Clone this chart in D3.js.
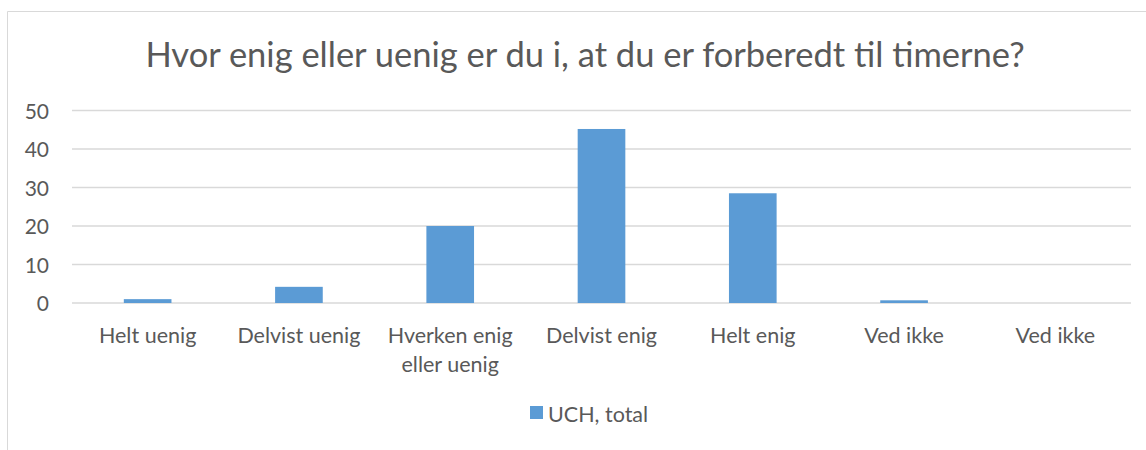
<!DOCTYPE html>
<html>
<head>
<meta charset="utf-8">
<script src="https://cdn.jsdelivr.net/npm/d3@7"></script>
<style>
  body { margin: 0; background: #fff; }
  text { font-family: Lato, "Open Sans", sans-serif; fill: #595959; }
</style>
</head>
<body>
<svg id="chart" width="1146" height="450"></svg>
<script>
// data
let categories = ["Helt uenig", "Delvist uenig", "Hverken enig eller uenig", "Delvist enig", "Helt enig", "Ved ikke", "Ved ikke "];
let labelLines = [["Helt uenig"], ["Delvist uenig"], ["Hverken enig", "eller uenig"], ["Delvist enig"], ["Helt enig"], ["Ved ikke"], ["Ved ikke"]];
let values = [1, 4.2, 20, 45.2, 28.5, 0.7, 0];
let yTicks = [0, 10, 20, 30, 40, 50];
let seriesName = "UCH, total";
let title = "Hvor enig eller uenig er du i, at du er forberedt til timerne?";

let svg = d3.select("#chart");
let plotLeft = 72, plotRight = 1131, plotTop = 110.5, plotBottom = 303;

// chart frame (cropped at right and bottom)
svg.append("path").attr("d", "M7.5,460V11.5H1160")
    .attr("fill", "none").attr("stroke", "#d9d9d9").attr("stroke-width", 1);

svg.append("text").attr("x", 585).attr("y", 67).attr("text-anchor", "middle")
    .style("font-size", "34.5px").text(title);

let xScale = d3.scaleBand().domain(categories).range([plotLeft, plotRight]).paddingInner(0.685).paddingOuter(0.3425);
let yScale = d3.scaleLinear().domain([0, 50]).range([plotBottom, plotTop]);

let grid = svg.append("g");
grid.selectAll("line").data(yTicks).enter().append("line")
    .attr("x1", plotLeft).attr("x2", plotRight)
    .attr("y1", d => yScale(d)).attr("y2", d => yScale(d))
    .attr("stroke", "#d9d9d9").attr("stroke-width", 1.3);

let yAxis = svg.append("g").attr("transform", "translate(49,0)")
    .call(d3.axisLeft(yScale).tickValues(yTicks).tickSize(0).tickPadding(0));
yAxis.select(".domain").remove();
yAxis.selectAll("text").style("font-size", "21px").attr("dy", "0.36em").attr("fill", "#595959");

svg.append("g").selectAll("rect").data(values).enter().append("rect")
    .attr("x", (d, i) => xScale(categories[i]))
    .attr("width", xScale.bandwidth())
    .attr("y", d => yScale(d))
    .attr("height", d => plotBottom - yScale(d))
    .attr("fill", "#5b9bd5");

let xl = svg.append("g");
xl.selectAll("text").data(labelLines).enter().append("text")
    .attr("text-anchor", "middle")
    .attr("x", (d, i) => xScale(categories[i]) + xScale.bandwidth() / 2)
    .attr("y", 343)
    .style("font-size", "21.5px")
    .each(function (lines) {
        let t = d3.select(this);
        let x = t.attr("x");
        lines.forEach((l, j) => t.append("tspan").attr("x", x).attr("dy", j ? 29 : 0).text(l));
    });

let legend = svg.append("g");
legend.append("rect").attr("x", 530).attr("y", 406).attr("width", 13).attr("height", 13).attr("fill", "#5b9bd5");
legend.append("text").attr("x", 548).attr("y", 422).style("font-size", "21.5px").text(seriesName);
</script>
</body>
</html>
